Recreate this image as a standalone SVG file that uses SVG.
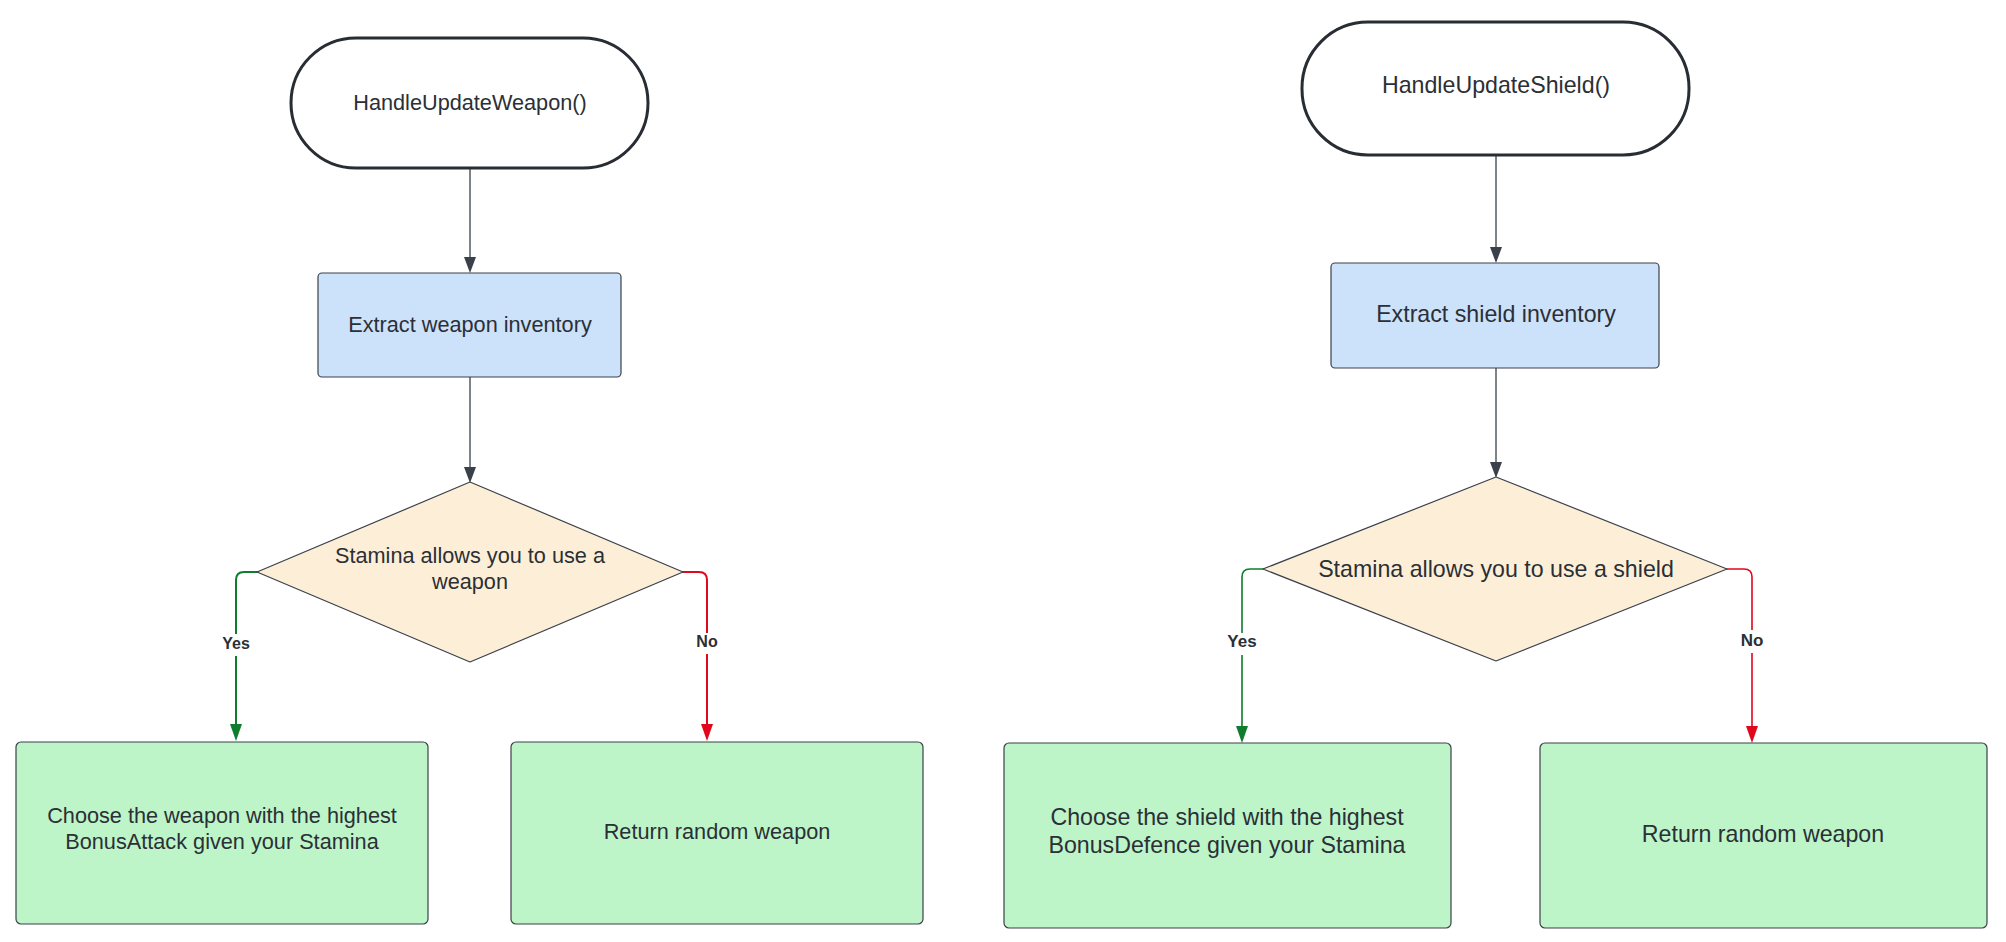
<svg xmlns="http://www.w3.org/2000/svg" width="2006" height="942" viewBox="0 0 2006 942">
<defs>
<style>
.t{font-family:"Liberation Sans",Arial,sans-serif;font-size:21.7px;fill:#2b2f36;text-anchor:middle}
.t2{font-family:"Liberation Sans",Arial,sans-serif;font-size:23.2px;fill:#2b2f36;text-anchor:middle}
.lb{font-family:"Liberation Sans",Arial,sans-serif;font-size:16px;font-weight:bold;fill:#2b2f36;text-anchor:middle}
.lb2{font-family:"Liberation Sans",Arial,sans-serif;font-size:17px;font-weight:bold;fill:#2b2f36;text-anchor:middle}
.term{fill:#ffffff;stroke:#282c33;stroke-width:3}
.proc{fill:#cce2fa;stroke:#3a414a;stroke-width:1.2}
.dec{fill:#fdefd7;stroke:#3a414a;stroke-width:1.2;stroke-linejoin:round}
.out{fill:#bdf5c9;stroke:#3a414a;stroke-width:1.2}
.c{fill:none;stroke:#3a414a;stroke-width:1.3}
.g{fill:none;stroke:#0f7d2c;stroke-width:2}
.r{fill:none;stroke:#e1071d;stroke-width:2}
.bg{fill:#ffffff}
</style>
</defs>
<rect width="2006" height="942" fill="#ffffff"/>
<g id="connectors">
<line class="c" x1="470" y1="168" x2="470" y2="258"/>
<path d="M464,257 L476,257 L470,273 Z" fill="#3a414a"/>
<line class="c" x1="470" y1="377" x2="470" y2="468"/>
<path d="M464,467 L476,467 L470,483 Z" fill="#3a414a"/>
<line class="c" x1="1496" y1="156" x2="1496" y2="248"/>
<path d="M1490,247 L1502,247 L1496,263 Z" fill="#3a414a"/>
<line class="c" x1="1496" y1="368" x2="1496" y2="463"/>
<path d="M1490,462 L1502,462 L1496,478 Z" fill="#3a414a"/>
<path class="g" d="M258,572 L244,572 Q236,572 236,580 L236,726"/>
<path d="M230,724 L242,724 L236,741 Z" fill="#0f7d2c"/>
<path class="r" d="M682,572 L699,572 Q707,572 707,580 L707,726"/>
<path d="M701,724 L713,724 L707,741 Z" fill="#e1071d"/>
<path class="g" style="stroke-width:1.6" d="M1264,569 L1250,569 Q1242,569 1242,577 L1242,728"/>
<path d="M1236,726 L1248,726 L1242,743 Z" fill="#0f7d2c"/>
<path class="r" style="stroke-width:1.6" d="M1726,569 L1744,569 Q1752,569 1752,577 L1752,728"/>
<path d="M1746,726 L1758,726 L1752,743 Z" fill="#e1071d"/>
<rect class="bg" x="218" y="634" width="36" height="22"/>
<text class="lb" x="236" y="649">Yes</text>
<rect class="bg" x="692" y="633" width="30" height="21"/>
<text class="lb" x="707" y="647">No</text>
<rect class="bg" x="1223" y="633" width="38" height="22"/>
<text class="lb2" x="1242" y="647">Yes</text>
<rect class="bg" x="1736" y="630" width="32" height="23"/>
<text class="lb2" x="1752" y="646">No</text>
</g>
<g id="start-weapon">
<rect class="term" x="291" y="38" width="357" height="130" rx="65" ry="65"/>
<text class="t" x="470" y="110">HandleUpdateWeapon()</text>
</g>
<g id="extract-weapon">
<rect class="proc" x="318" y="273" width="303" height="104" rx="4"/>
<text class="t" x="470" y="332">Extract weapon inventory</text>
</g>
<g id="decision-weapon">
<polygon class="dec" points="470,482 683,572 470,662 257,572"/>
<text class="t" x="470" y="563">Stamina allows you to use a</text>
<text class="t" x="470" y="589">weapon</text>
</g>
<g id="choose-weapon">
<rect class="out" x="16" y="742" width="412" height="182" rx="5"/>
<text class="t" x="222" y="823">Choose the weapon with the highest</text>
<text class="t" x="222" y="849">BonusAttack given your Stamina</text>
</g>
<g id="random-weapon-1">
<rect class="out" x="511" y="742" width="412" height="182" rx="5"/>
<text class="t" x="717" y="839">Return random weapon</text>
</g>
<g id="start-shield">
<rect class="term" x="1302" y="22" width="387" height="133" rx="66" ry="66"/>
<text class="t2" x="1496" y="93">HandleUpdateShield()</text>
</g>
<g id="extract-shield">
<rect class="proc" x="1331" y="263" width="328" height="105" rx="4"/>
<text class="t2" x="1496" y="322">Extract shield inventory</text>
</g>
<g id="decision-shield">
<polygon class="dec" points="1496,477 1727,569 1496,661 1263,569"/>
<text class="t2" x="1496" y="577">Stamina allows you to use a shield</text>
</g>
<g id="choose-shield">
<rect class="out" x="1004" y="743" width="447" height="185" rx="5"/>
<text class="t2" x="1227" y="825">Choose the shield with the highest</text>
<text class="t2" x="1227" y="853">BonusDefence given your Stamina</text>
</g>
<g id="random-weapon-2">
<rect class="out" x="1540" y="743" width="447" height="185" rx="5"/>
<text class="t2" x="1763" y="842">Return random weapon</text>
</g>
</svg>
